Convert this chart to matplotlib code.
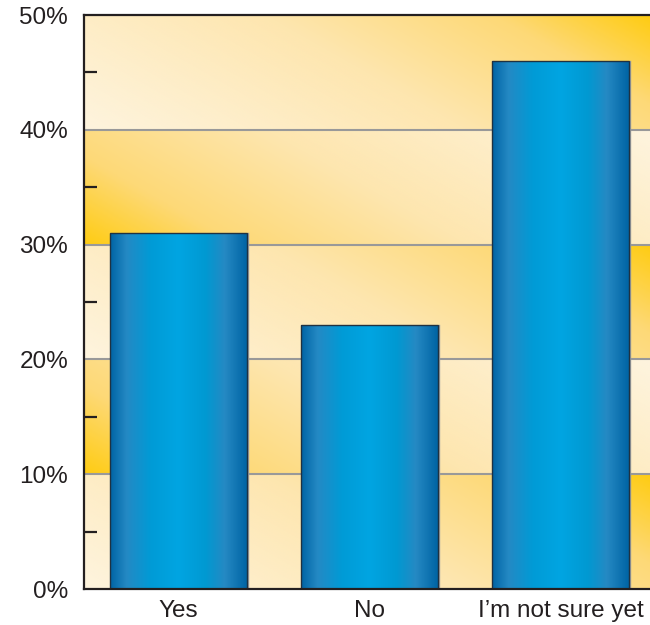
import numpy as np
import matplotlib
matplotlib.use("Agg")
import matplotlib.pyplot as plt
from matplotlib.colors import LinearSegmentedColormap
from matplotlib.ticker import MultipleLocator, FuncFormatter

# data
categories = ["Yes", "No", "I\u2019m not sure yet"]
values = [31, 23, 46]
y_ticks = [0, 10, 20, 30, 40, 50]

plt.rcParams['font.family'] = ['Liberation Sans', 'DejaVu Sans']
text_color = "#231f20"

fig = plt.figure(figsize=(6.5, 6.25), dpi=100)
ax = fig.add_axes([84 / 650, 36 / 625, 566 / 650, 574 / 625])

x = np.arange(len(categories))
bar_w = 0.717
ax.set_xlim(-0.495, 2.469)
ax.set_ylim(0, 50)

# background bands with diagonal gradient
bg_cmap = LinearSegmentedColormap.from_list(
    "bg", [(0.0, "#fef4de"), (0.5, "#fee6af"), (0.8, "#fdd977"), (1.0, "#ffcc14")])
nx, ny = 300, 60
gx = np.linspace(0, 1, nx)
gy = np.linspace(0, 1, ny)
GX, GY = np.meshgrid(gx, gy)
t = (GX * 566 + GY * 200) / (566 + 200)
x0, x1 = ax.get_xlim()
for i in range(5):
    lo, hi = y_ticks[i], y_ticks[i + 1]
    grad = t if i % 2 == 0 else 1 - t
    ax.imshow(grad, cmap=bg_cmap, vmin=0, vmax=1, origin="lower",
              extent=[x0, x1, lo, hi], aspect="auto", zorder=0, interpolation="bicubic")

# grid lines
for yv in y_ticks[1:-1]:
    ax.axhline(yv, color="#999999", lw=1.5, zorder=1)

# bars with cylinder gradient
bar_cmap = LinearSegmentedColormap.from_list(
    "bar", [(0.0, "#0064a4"), (0.12, "#2489c4"), (0.3, "#009bd6"), (0.5, "#00a5e2"),
            (0.7, "#0099d2"), (0.84, "#2589c3"), (1.0, "#0064a4")])
strip = np.linspace(0, 1, 256).reshape(1, -1)
bars = ax.bar(x, values, width=bar_w, facecolor="none", edgecolor="#1f3242",
              linewidth=1.0, zorder=3)
for rect in bars:
    bx, bw, bh = rect.get_x(), rect.get_width(), rect.get_height()
    ax.plot([bx + bw + 0.006] * 2, [0, bh], color="#a0a0a0", lw=1.0, zorder=2)
    im = ax.imshow(strip, cmap=bar_cmap, extent=[bx, bx + bw, 0, bh],
                   aspect="auto", zorder=2.5, interpolation="bilinear")
    im.set_clip_path(rect)

ax.set_xlim(x0, x1)
ax.set_ylim(0, 50)

# axes styling
for side in ["left", "bottom", "top"]:
    ax.spines[side].set_color(text_color)
    ax.spines[side].set_linewidth(1.6)
    ax.spines[side].set_zorder(5)
ax.spines["right"].set_visible(False)

ax.set_yticks(y_ticks)
ax.yaxis.set_major_formatter(FuncFormatter(lambda v, p: f"{int(v)}%"))
ax.yaxis.set_minor_locator(MultipleLocator(5))
ax.tick_params(axis="y", which="major", length=0, pad=11.5, labelsize=17.5, labelcolor=text_color)
ax.tick_params(axis="y", which="minor", direction="in", length=9.5, width=1.6, color=text_color)
ax.set_xticks(x)
ax.set_xticklabels(categories)
ax.tick_params(axis="x", length=0, pad=8, labelsize=17.5, labelcolor=text_color)

fig.savefig("out.png", dpi=100)
